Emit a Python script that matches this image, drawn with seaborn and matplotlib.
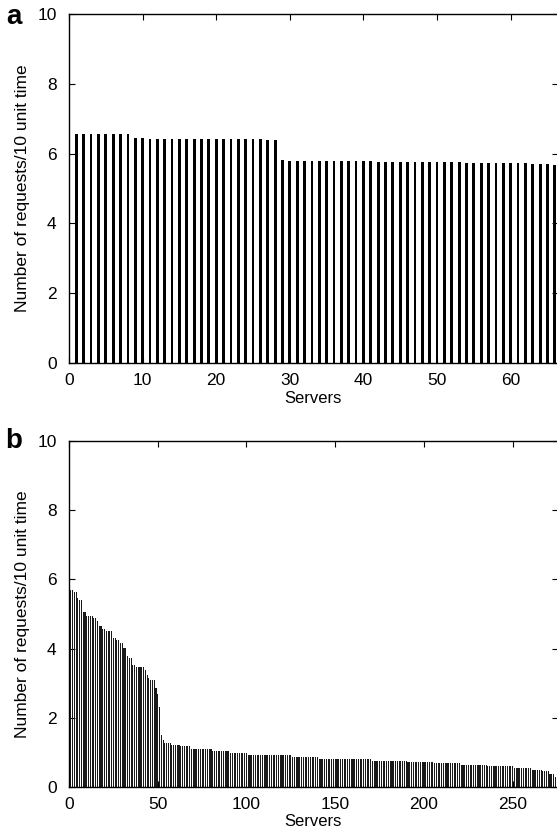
import numpy as np
import pandas as pd
import matplotlib
matplotlib.use("Agg")
import matplotlib.pyplot as plt
import seaborn as sns

# Panel a: request rate per server (66 servers, three load groups)
a_servers = list(range(1, 67))
a_values = ([6.56] * 8
            + [6.44, 6.44, 6.43, 6.43, 6.43, 6.43, 6.43, 6.43, 6.42, 6.42,
               6.42, 6.42, 6.42, 6.42, 6.41, 6.41, 6.41, 6.41, 6.40, 6.40]
            + [5.81, 5.80, 5.80, 5.80, 5.80, 5.79, 5.79, 5.79, 5.79, 5.78,
               5.78, 5.78, 5.78, 5.77, 5.77, 5.77, 5.77, 5.76, 5.76, 5.76,
               5.76, 5.75, 5.75, 5.75, 5.75, 5.74, 5.74, 5.74, 5.73, 5.73,
               5.73, 5.72, 5.72, 5.72, 5.71, 5.71, 5.70, 5.68])

# Panel b: request rate per server, sorted descending (runs of equal load)
b_run_lengths = [2, 2, 1, 2, 2, 4, 2, 1, 2, 2, 4, 2, 2, 2, 2, 1, 2, 2, 5,
                 1, 1, 1, 2, 1, 1, 1, 1, 1, 1, 4, 5, 6, 12, 10, 10, 25,
                 15, 30, 20, 15, 15, 15, 15, 10, 6, 4, 3, 1]
b_run_values = [5.70, 5.63, 5.46, 5.41, 5.07, 4.95, 4.88, 4.81, 4.65, 4.57,
                4.50, 4.31, 4.24, 4.15, 4.03, 3.78, 3.74, 3.52, 3.46,
                3.39, 3.23, 3.16, 3.10, 3.10, 2.87, 2.70, 2.30, 1.50, 1.35,
                1.27, 1.22, 1.17, 1.10, 1.05, 0.98, 0.92,
                0.88, 0.82, 0.76, 0.72, 0.68, 0.64, 0.60, 0.55, 0.50, 0.45,
                0.38, 0.30]
b_values = np.repeat(b_run_values, b_run_lengths)
b_servers = list(range(1, len(b_values) + 1))

x_label = "Servers"
y_label = "Number of requests/10 unit time"
y_ticks = [0, 2, 4, 6, 8, 10]

sns.set_style("ticks")
plt.rcParams["font.family"] = ["Liberation Sans", "DejaVu Sans"]
plt.rcParams["xtick.direction"] = "in"
plt.rcParams["ytick.direction"] = "in"
plt.rcParams["text.color"] = "black"
plt.rcParams["axes.labelcolor"] = "black"
plt.rcParams["xtick.labelcolor"] = "black"
plt.rcParams["ytick.labelcolor"] = "black"

fig = plt.figure(figsize=(5.57, 8.39), dpi=100)
ax_a = fig.add_axes([0.1239, 0.5673, 0.8775, 0.4160])
ax_b = fig.add_axes([0.1239, 0.0620, 0.8775, 0.4124])

df_a = pd.DataFrame({"server": a_servers, "rate": a_values})
df_b = pd.DataFrame({"server": b_servers, "rate": b_values})

sns.barplot(data=df_a, x="server", y="rate", native_scale=True, color="black",
            saturation=1, width=0.38, linewidth=0, ax=ax_a)
sns.barplot(data=df_b, x="server", y="rate", native_scale=True,
            color="#1a1a1a", saturation=1, width=0.62, linewidth=0, ax=ax_b)

for ax, xmax, xticks in [
    (ax_a, 66.4, [0, 10, 20, 30, 40, 50, 60]),
    (ax_b, 275.4, [0, 50, 100, 150, 200, 250]),
]:
    ax.set_xlim(0, xmax)
    ax.set_ylim(0, 10)
    ax.set_xticks(xticks)
    ax.set_yticks(y_ticks)
    ax.set_xticklabels([str(t) for t in xticks])
    ax.set_xlabel(x_label, fontsize=12, labelpad=2)
    ax.set_ylabel(y_label, fontsize=12.5, labelpad=5)
    ax.tick_params(axis="both", which="major", labelsize=12.5, length=4,
                   width=0.8, top=True, right=True, pad=7, color="black")
    ax.tick_params(axis="y", pad=9)
    for s in ax.spines.values():
        s.set_linewidth(1.0)
        s.set_color("black")
        s.set_visible(True)

# Panel letters
fig.text(14 / 557, 1 - 17 / 839, "a", fontsize=20, fontweight="bold",
         ha="center", va="center")
fig.text(14 / 557, 1 - 441 / 839, "b", fontsize=20, fontweight="bold",
         ha="center", va="center")

fig.savefig("out.png", dpi=100)
